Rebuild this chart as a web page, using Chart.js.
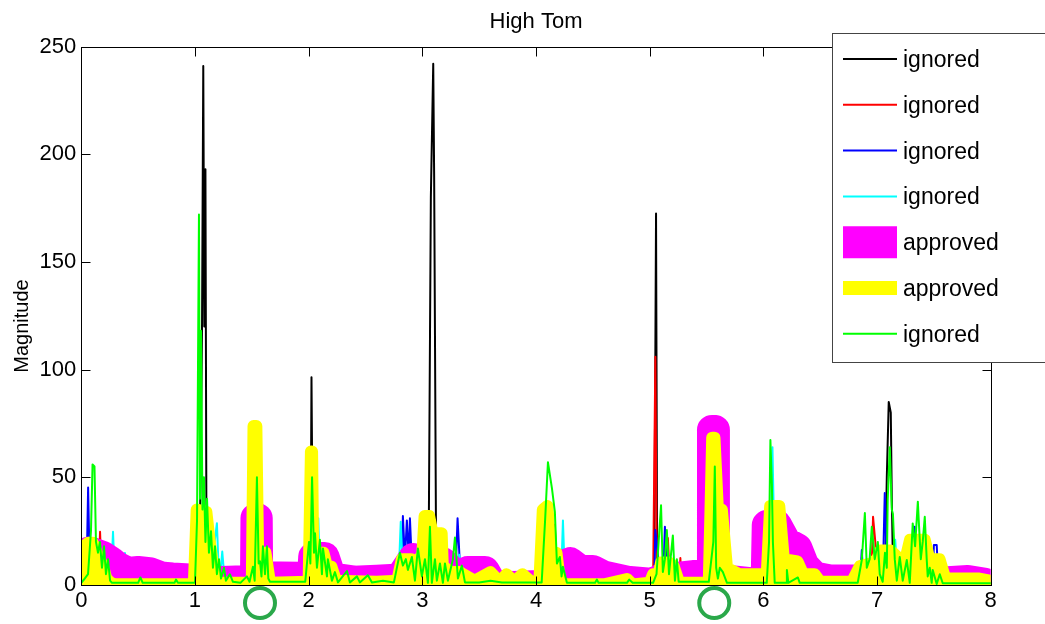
<!DOCTYPE html>
<html>
<head>
<meta charset="utf-8">
<title>High Tom</title>
<script src="https://cdn.jsdelivr.net/npm/chart.js@4.4.0/dist/chart.umd.min.js"></script>
<style>
  html, body { margin: 0; padding: 0; background: #fff; }
  #wrap { width: 1045px; height: 624px; }
</style>
</head>
<body>
<div id="wrap"><canvas id="chartCanvas" width="1045" height="624"></canvas></div>
<script>
// axis ticks
const xTickValues = [0, 1, 2, 3, 4, 5, 6, 7, 8];
const yTickValues = [0, 50, 100, 150, 200, 250];

// time positions circled under the axis
const markedTimes = [1.572, 5.568];

const seriesLabels = ["ignored", "ignored", "ignored", "ignored", "approved", "approved", "ignored"];

// [time, magnitude]
const blackSeries = [
  [0, 1], [1.0, 1], [1.035, 3], [1.05, 50], [1.062, 120], [1.073, 241], [1.082, 120],
  [1.092, 193], [1.1, 40], [1.114, 10], [1.15, 2], [2.0, 1], [2.016, 2], [2.025, 96.5],
  [2.038, 3], [3.04, 2], [3.058, 35], [3.075, 180], [3.096, 242], [3.104, 190], [3.12, 27],
  [3.137, 5], [5.04, 2], [5.056, 172.5], [5.066, 3], [7.07, 5], [7.086, 50], [7.103, 85],
  [7.121, 80], [7.13, 40], [7.14, 10], [7.16, 2], [8, 1]
];

const redSeries = [
  [0, 1], [0.15, 1], [0.165, 24.7], [0.178, 5], [0.2, 1], [4.15, 1], [4.165, 28], [4.178, 15],
  [4.19, 1], [5.03, 1], [5.05, 106], [5.06, 25], [5.07, 5], [5.14, 5], [5.16, 21.8], [5.175, 5],
  [5.26, 2], [5.27, 12.5], [5.28, 2], [6.95, 2], [6.965, 31.7], [6.985, 20], [7.0, 2], [8, 1]
];

const blueSeries = [
  [0, 1], [0.045, 2], [0.06, 45.3], [0.075, 5], [0.09, 1], [1.12, 1], [1.14, 24.7], [1.16, 8],
  [1.175, 18], [1.19, 2], [2.8, 2], [2.82, 10], [2.829, 32], [2.847, 12], [2.864, 30],
  [2.882, 12], [2.891, 31], [2.908, 10], [2.92, 2], [3.29, 2], [3.31, 31], [3.33, 10],
  [3.345, 2], [5.04, 1], [5.05, 25.5], [5.08, 10], [5.1, 2], [5.12, 5], [5.134, 27], [5.15, 3],
  [6.85, 1], [6.866, 16.2], [6.88, 2], [7.05, 2], [7.068, 42.7], [7.085, 10], [7.3, 2],
  [7.33, 27], [7.35, 5], [7.49, 2], [7.5, 18.6], [7.525, 18.6], [7.54, 2], [8, 1]
];

const cyanSeries = [
  [0, 1], [0.26, 1], [0.279, 24.7], [0.296, 2], [0.37, 2], [0.384, 14.8], [0.4, 2], [1.12, 2],
  [1.137, 32.5], [1.15, 10], [1.193, 28.7], [1.21, 5], [1.22, 3], [1.24, 15.5], [1.26, 3],
  [2.07, 2], [2.085, 31], [2.1, 3], [2.79, 2], [2.81, 29.4], [2.83, 5], [3.31, 3], [3.325, 14],
  [3.345, 3], [4.22, 2], [4.237, 30], [4.255, 2], [6.06, 5], [6.08, 64], [6.1, 10], [7.14, 5],
  [7.16, 21], [7.18, 5], [8, 1]
];

const magentaSeries = [
  [0, 12.4], [0.06, 15.4], [0.11, 15], [0.19, 13.4], [0.26, 11], [0.32, 8.5], [0.41, 6.1],
  [0.5, 6.5], [0.6, 6], [0.7, 4], [0.8, 3.5], [0.95, 3], [1.0, 2], [1.15, 1.8], [1.3, 2],
  [1.42, 2.2], [1.528, 2.5], [1.532, 31], [1.552, 31], [1.556, 4], [1.75, 4], [1.92, 3.8],
  [2.03, 4], [2.04, 13], [2.14, 13], [2.2, 3.5], [2.4, 2], [2.6, 2.5], [2.8, 3], [2.92, 12.5],
  [3.0, 11], [3.18, 10.6], [3.3, 4], [3.4, 6.5], [3.55, 6.5], [3.62, 0], [3.8, -0.5],
  [4.03, 0], [4.1, 2], [4.22, 9], [4.3, 10.6], [4.39, 7], [4.5, 7], [4.59, 4.5], [4.8, 2],
  [5.03, 1], [5.1, 3], [5.38, 4.6], [5.545, 4.6], [5.548, 72], [5.57, 72], [5.574, 3],
  [5.95, 1], [6.02, 1.5], [6.03, 27.8], [6.12, 27.8], [6.2, 20], [6.3, 17], [6.36, 9],
  [6.45, 4], [6.6, 2.5], [6.8, 2.5], [7.0, 4], [7.2, 5.5], [7.4, 3], [7.55, 1.5], [7.8, 2.3],
  [7.95, 1], [8, -1]
];

const yellowSeries = [
  [0, 16.7], [0.06, 19.6], [0.1, 19.6], [0.15, 13], [0.19, 8.8], [0.22, 3], [0.26, 1],
  [0.3, 0.3], [0.6, 0.3], [0.99, 0.5], [1.015, 35], [1.1, 34], [1.13, 20], [1.17, 5], [1.2, 1],
  [1.5, 1], [1.515, 73.8], [1.54, 73.8], [1.555, 15], [1.62, 15], [1.66, 1], [2.0, 1.5],
  [2.02, 62], [2.03, 62], [2.04, 15], [2.13, 15], [2.16, 8.8], [2.2, 8.5], [2.24, 2], [2.4, 1.7],
  [2.6, 1.5], [2.78, 2], [2.82, 12], [2.9, 12], [2.95, 11], [3.0, 14], [3.02, 32], [3.06, 32],
  [3.09, 24], [3.17, 24], [3.18, 8.8], [3.25, 6], [3.33, 6], [3.36, 5], [3.46, 2], [3.6, 6],
  [3.68, 1.5], [3.74, 5], [3.81, 1.5], [3.88, 5], [3.96, 1.5], [4.03, 2], [4.06, 35],
  [4.1, 36.7], [4.13, 15], [4.18, 15], [4.21, 2], [4.25, 0.3], [4.6, 0.3], [4.8, 2.8],
  [4.85, 0.3], [5.0, 1], [5.03, 5], [5.08, 5], [5.1, 10.4], [5.17, 10.4], [5.21, 8.8],
  [5.26, 1], [5.52, 1], [5.55, 68.4], [5.57, 68.4], [5.6, 35], [5.635, 35], [5.68, 8],
  [5.79, 5], [6.03, 5], [6.06, 36.7], [6.14, 36.7], [6.18, 12], [6.3, 11], [6.35, 5],
  [6.45, 5], [6.5, 1.5], [6.78, 1.5], [6.85, 8.8], [6.95, 10], [7.0, 12], [7.03, 16],
  [7.12, 16], [7.2, 12], [7.23, 7.5], [7.29, 21], [7.42, 21], [7.46, 12], [7.55, 12],
  [7.6, 3], [7.9, 3], [8, 2]
];

const greenSeries = [
  [0, 1], [0.03, 3], [0.059, 5], [0.085, 25], [0.099, 56], [0.116, 55], [0.129, 20],
  [0.147, 15], [0.164, 20], [0.182, 8], [0.2, 18], [0.217, 5], [0.235, 12], [0.253, 2],
  [0.27, 1], [0.5, 1], [0.52, 3.5], [0.54, 1], [0.82, 1], [0.833, 2.5], [0.85, 1], [1.0, 1],
  [1.018, 30], [1.035, 172], [1.044, 40], [1.053, 118], [1.066, 35], [1.079, 50], [1.092, 20],
  [1.106, 40], [1.123, 15], [1.141, 25], [1.158, 8], [1.176, 18], [1.193, 5], [1.211, 12],
  [1.229, 3], [1.255, 8], [1.272, 2], [1.307, 5], [1.334, 1.5], [1.4, 1], [1.457, 4],
  [1.48, 1.5], [1.51, 8.5], [1.525, 2], [1.545, 50], [1.56, 10], [1.572, 11], [1.585, 4],
  [1.598, 18], [1.616, 5], [1.633, 18], [1.645, 3], [1.66, 1.5], [1.97, 1.5], [2.003, 20],
  [2.015, 10], [2.03, 50], [2.047, 15], [2.056, 24], [2.073, 8], [2.099, 21], [2.117, 5],
  [2.126, 17], [2.161, 4], [2.169, 12], [2.205, 2], [2.231, 6], [2.258, 1.2], [2.337, 6.5],
  [2.363, 1.2], [2.425, 4], [2.45, 1.2], [2.521, 4.5], [2.557, 1.2], [2.654, 2], [2.75, 1.2],
  [2.803, 15], [2.829, 9], [2.855, 12], [2.873, 7], [2.908, 13], [2.935, 2], [2.961, 17],
  [2.996, 4], [3.023, 12], [3.049, 1], [3.067, 27], [3.084, 1], [3.111, 12], [3.128, 2],
  [3.155, 10], [3.181, 1], [3.199, 10], [3.225, 2], [3.269, 12], [3.287, 22], [3.313, 3],
  [3.348, 9], [3.375, 1.2], [3.5, 1.2], [3.6, 2], [3.7, 1.2], [4.05, 1.2], [4.08, 30],
  [4.105, 57], [4.14, 45], [4.166, 34], [4.184, 10], [4.21, 13], [4.225, 4], [4.237, 8.5],
  [4.272, 1], [4.52, 1], [4.536, 2.5], [4.55, 1], [4.8, 1], [4.82, 2.5], [4.85, 1], [5.03, 1],
  [5.06, 5], [5.1, 37], [5.116, 6], [5.134, 12], [5.151, 25.5], [5.17, 5], [5.204, 23],
  [5.222, 2], [5.239, 12], [5.255, 1.5], [5.52, 1.5], [5.56, 20], [5.573, 55], [5.585, 8],
  [5.6, 3], [5.617, 8], [5.644, 6], [5.68, 1], [6.03, 1], [6.05, 20], [6.062, 67.3],
  [6.075, 47], [6.084, 20], [6.1, 1], [6.2, 1], [6.207, 7], [6.22, 1], [6.304, 3.5],
  [6.32, 1], [6.83, 1], [6.866, 11.6], [6.893, 33.4], [6.91, 8], [6.935, 12], [6.954, 27],
  [6.98, 12], [7.007, 20], [7.024, 5], [7.05, 1.5], [7.07, 15], [7.086, 8], [7.094, 39.5],
  [7.112, 64], [7.13, 35], [7.14, 33], [7.156, 12], [7.174, 2], [7.2, 13], [7.226, 2],
  [7.262, 11.6], [7.288, 1], [7.314, 28.6], [7.335, 18], [7.359, 38.7], [7.367, 30],
  [7.385, 12], [7.402, 20], [7.42, 31.7], [7.437, 12], [7.446, 4], [7.464, 8], [7.481, 1],
  [7.49, 7], [7.525, 0.5], [7.552, 5], [7.578, 0.8], [8, 0.8]
];

const FONT = "'Liberation Sans', Arial, sans-serif";

// the two "approved" traces are filled down to zero
const makeLine = (label, data, color, width, order, filled) => ({
  label: label,
  data: data,
  borderColor: color,
  backgroundColor: color,
  borderWidth: width,
  borderJoinStyle: "round",
  borderCapStyle: "round",
  pointRadius: 0,
  tension: 0,
  fill: filled ? "origin" : false,
  clip: 0,
  order: order,
});

// frame with inward ticks, titles, legend box and the circled times
const plotDecor = {
  id: "plotDecor",
  afterDraw(chart) {
    const { ctx, chartArea: area, scales } = chart;
    const xs = scales.x;
    const ys = scales.y;
    const L = Math.round(area.left) + 0.5;
    const R = Math.round(area.right) + 0.5;
    const T = Math.round(area.top) + 0.5;
    const B = Math.round(area.bottom) + 0.5;
    ctx.save();

    ctx.strokeStyle = "#000";
    ctx.lineWidth = 1;
    ctx.strokeRect(L, T, R - L, B - T);
    ctx.beginPath();
    yTickValues.forEach((v) => {
      const py = Math.round(ys.getPixelForValue(v)) + 0.5;
      ctx.moveTo(L, py); ctx.lineTo(L + 9, py);
      ctx.moveTo(R, py); ctx.lineTo(R - 9, py);
    });
    xTickValues.forEach((v) => {
      const px = Math.round(xs.getPixelForValue(v)) + 0.5;
      ctx.moveTo(px, B); ctx.lineTo(px, B - 9);
      ctx.moveTo(px, T); ctx.lineTo(px, T + 9);
    });
    ctx.stroke();

    // title
    ctx.fillStyle = "#000";
    ctx.font = "22px " + FONT;
    ctx.textAlign = "center";
    ctx.textBaseline = "alphabetic";
    ctx.fillText("High Tom", (area.left + area.right) / 2, 28);

    // y axis label
    ctx.save();
    ctx.translate(28, 326);
    ctx.rotate(-Math.PI / 2);
    ctx.font = "20px " + FONT;
    ctx.fillText("Magnitude", 0, 0);
    ctx.restore();

    // circled times
    ctx.strokeStyle = "#2aa84a";
    ctx.lineWidth = 4;
    markedTimes.forEach((t) => {
      ctx.beginPath();
      ctx.arc(xs.getPixelForValue(t), area.bottom + 18, 15, 0, Math.PI * 2);
      ctx.stroke();
    });

    // legend
    const boxX = 832.5, boxY = 33.5, boxH = 329;
    ctx.fillStyle = "#fff";
    ctx.fillRect(boxX, boxY, 260, boxH);
    ctx.strokeStyle = "#444";
    ctx.lineWidth = 1;
    ctx.strokeRect(boxX, boxY, 260, boxH);
    ctx.font = "23px " + FONT;
    ctx.textAlign = "left";
    chart.data.datasets.forEach((ds, i) => {
      const cy = 59 + i * 45.8;
      ctx.strokeStyle = ds.borderColor;
      ctx.lineWidth = ds.borderWidth > 10 ? ds.borderWidth + 2 : 2;
      ctx.lineCap = "butt";
      ctx.beginPath();
      ctx.moveTo(843, cy);
      ctx.lineTo(897, cy);
      ctx.stroke();
      ctx.fillStyle = "#000";
      ctx.fillText(ds.label, 903, cy + 8);
    });
    ctx.restore();
  },
};

new Chart(document.getElementById("chartCanvas"), {
  type: "line",
  data: {
    datasets: [
      makeLine(seriesLabels[0], blackSeries, "#000000", 2, 7, false),
      makeLine(seriesLabels[1], redSeries, "#ff0000", 2, 6, false),
      makeLine(seriesLabels[2], blueSeries, "#0000ff", 2, 5, false),
      makeLine(seriesLabels[3], cyanSeries, "#00ffff", 2, 4, false),
      makeLine(seriesLabels[4], magentaSeries, "#ff00ff", 30, 3, true),
      makeLine(seriesLabels[5], yellowSeries, "#ffff00", 12, 2, true),
      makeLine(seriesLabels[6], greenSeries, "#00ff00", 2, 1, false),
    ],
  },
  options: {
    responsive: false,
    devicePixelRatio: 1,
    animation: false,
    events: [],
    layout: { padding: { left: 0, top: 46.5, right: 54.3, bottom: 0 } },
    plugins: {
      legend: { display: false },
      title: { display: false },
      tooltip: { enabled: false },
    },
    scales: {
      x: {
        type: "linear",
        min: 0,
        max: 8,
        grid: { display: false, drawTicks: false },
        border: { display: false },
        afterBuildTicks: (s) => { s.ticks = xTickValues.map((v) => ({ value: v })); },
        afterFit: (s) => { s.height = 39; },
        ticks: {
          autoSkip: false,
          maxRotation: 0,
          padding: 3,
          color: "#000",
          font: { family: FONT, size: 22 },
        },
      },
      y: {
        type: "linear",
        min: 0,
        max: 250,
        grid: { display: false, drawTicks: false },
        border: { display: false },
        afterBuildTicks: (s) => { s.ticks = yTickValues.map((v) => ({ value: v })); },
        afterFit: (s) => { s.width = 81.3; },
        ticks: {
          padding: 5,
          color: "#000",
          font: { family: FONT, size: 22 },
        },
      },
    },
  },
  plugins: [plotDecor],
});
</script>
</body>
</html>
